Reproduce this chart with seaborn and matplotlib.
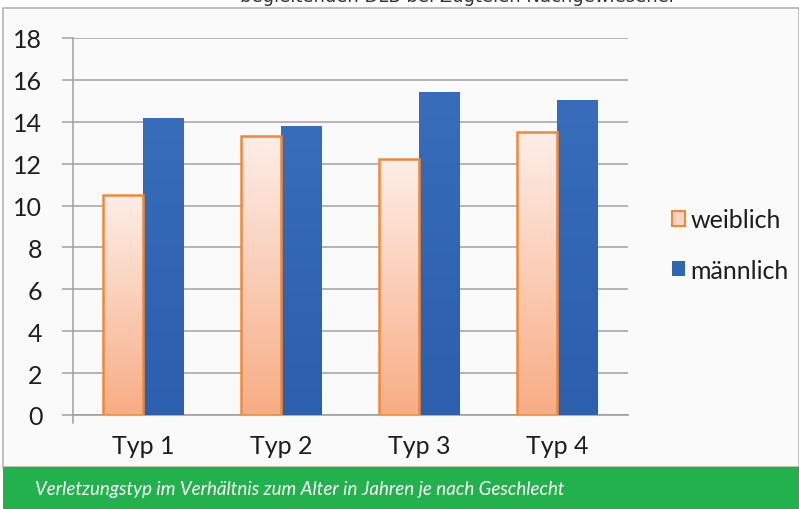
import numpy as np
import pandas as pd
import matplotlib
matplotlib.use("Agg")
import matplotlib.pyplot as plt
import seaborn as sns
from matplotlib.patches import Patch, Rectangle

categories = ["Typ 1", "Typ 2", "Typ 3", "Typ 4"]
weiblich = [10.5, 13.3, 12.2, 13.5]
maennlich = [14.2, 13.8, 15.4, 15.05]
series_names = ["weiblich", "männlich"]
yticks = [0, 2, 4, 6, 8, 10, 12, 14, 16, 18]
caption = "Verletzungstyp im Verhältnis zum Alter in Jahren je nach Geschlecht"
top_snippet = "begleitenden DLB bei Zugtelen Nachgewiesener"

df = pd.DataFrame({
    "Typ": categories * 2,
    "Alter": weiblich + maennlich,
    "Geschlecht": [series_names[0]] * 4 + [series_names[1]] * 4,
})

sns.set_theme(style="white")
plt.rcParams["font.family"] = ["Lato", "DejaVu Sans"]

W, H = 799, 510
fig = plt.figure(figsize=(W / 100, H / 100), dpi=100)
fig.patch.set_facecolor("white")

# panel background + frame
fig.add_artist(Rectangle((3 / W, 42 / H), 1 - 3 / W, (468 - 9) / H, transform=fig.transFigure,
                         facecolor="#FAFAFA", edgecolor="#B4B4B4", linewidth=1.2, zorder=0))
# green caption banner
fig.add_artist(Rectangle((3 / W, 0), 1 - 3 / W, 42 / H, transform=fig.transFigure,
                         facecolor="#23B14D", edgecolor="none", zorder=1))
fig.text(35 / W, 20 / H, caption, color="white", fontsize=13.5, style="italic",
         family=["Lato", "DejaVu Sans"], va="center", ha="left", zorder=2)
# clipped text from the page above (only its lower edge is visible)
fig.text(240 / W, 1 - 2 / H, top_snippet, color="#333333", fontsize=13,
         family=["DejaVu Sans"], va="baseline", ha="left")

ax = fig.add_axes([73 / W, 94 / H, (628 - 73) / W, (416 - 39) / H])
ax.set_facecolor("none")

sns.barplot(data=df, x="Typ", y="Alter", hue="Geschlecht", order=categories,
            hue_order=series_names, palette=["#FBD3BF", "#3065B3"], width=0.58,
            gap=0, saturation=1, ax=ax, legend=False, zorder=3)

# gradients
grad_f = np.linspace(0, 1, 256).reshape(-1, 1)
top_c = np.array(matplotlib.colors.to_rgb("#FDEEE8"))
bot_c = np.array(matplotlib.colors.to_rgb("#F7AD85"))
img_f = top_c[None, None, :] * (1 - grad_f[:, :, None]) + bot_c[None, None, :] * grad_f[:, :, None]
btop = np.array(matplotlib.colors.to_rgb("#376DBB"))
bbot = np.array(matplotlib.colors.to_rgb("#2C5FAE"))
img_m = btop[None, None, :] * (1 - grad_f[:, :, None]) + bbot[None, None, :] * grad_f[:, :, None]

for cont, img, ec in zip(ax.containers, [img_f, img_m], ["#F0883A", "none"]):
    for p in cont:
        x0, y0 = p.get_x(), p.get_y()
        w, h = p.get_width(), p.get_height()
        im = ax.imshow(img, extent=[x0, x0 + w, y0, y0 + h], aspect="auto",
                       origin="upper", zorder=3.5)
        im.set_clip_path(p)
        p.set_linewidth(0)
        if ec != "none":
            ax.add_patch(Rectangle((x0, y0), w, h, facecolor="none", edgecolor=ec,
                                   linewidth=1.8, zorder=4))

ax.set_xlim(-0.507, 3.514)
ax.set_ylim(0, 18)

ax.set_yticks(yticks)
ax.set_yticklabels([str(t) for t in yticks], fontsize=18, color="#1E1E1E")
ax.set_xticks(range(len(categories)))
ax.set_xticklabels(categories, fontsize=18, color="#1E1E1E")
ax.tick_params(axis="x", length=0, pad=14)
ax.tick_params(axis="y", length=8, width=1.1, color="#A0A0A0", left=True, pad=14)
ax.set_xlabel("")
ax.set_ylabel("")
ax.yaxis.grid(True, color="#A8A8A8", linewidth=1.2, zorder=0)
ax.set_axisbelow(True)
for s in ["top", "right"]:
    ax.spines[s].set_visible(False)
ax.spines["left"].set_color("#A0A0A0")
ax.spines["left"].set_linewidth(1.1)
ax.spines["left"].set_bounds(-0.4, 18)
ax.spines["bottom"].set_color("#A0A0A0")
ax.spines["bottom"].set_linewidth(1.2)
ax.spines["left"].set_zorder(5)

handles = [Patch(facecolor="#FBD3BF", edgecolor="#F0883A", linewidth=1.5),
           Patch(facecolor="#3065B3", edgecolor="none")]
fig.legend(handles, series_names, loc="center left", bbox_to_anchor=(649 / W, 1 - 246 / H),
           frameon=False, fontsize=18, handlelength=0.55, handleheight=0.55,
           handletextpad=0.2, labelspacing=1.1, labelcolor="#1E1E1E")

fig.savefig("out.png", dpi=100, facecolor="white")
